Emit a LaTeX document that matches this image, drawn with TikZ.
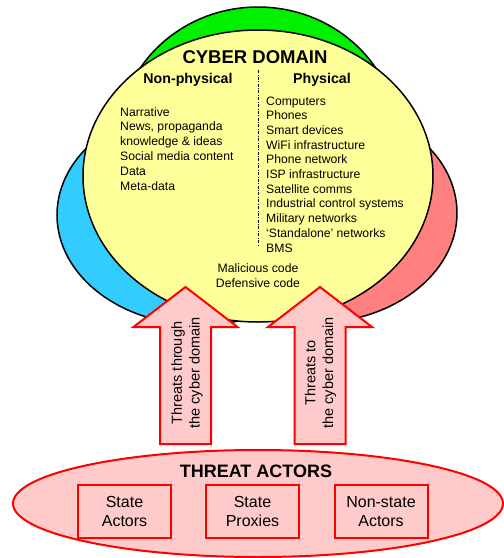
\documentclass[tikz,border=0pt]{standalone}
\usepackage{fontspec}
\setmainfont{Liberation Sans}
\usetikzlibrary{shapes.geometric}
\definecolor{domgreen}{HTML}{00F000}
\definecolor{domblue}{HTML}{33CCFF}
\definecolor{domred}{HTML}{FF8080}
\definecolor{domyellow}{HTML}{FFFF99}
\definecolor{threatfill}{HTML}{FFCACA}
\definecolor{threatline}{HTML}{FF0000}
\tikzset{
  blob/.style={ellipse, draw=black, line width=1.5pt, inner sep=0pt},
  item/.style={anchor=base west, inner sep=0pt, font=\fontsize{12.2}{14}\selectfont},
  heading/.style={anchor=base, inner sep=0pt, font=\bfseries\fontsize{14.2}{17}\selectfont},
  threatarrow/.style={draw=threatline, fill=threatfill, line width=2pt, line join=miter},
  arrowtext/.style={rotate=90, align=center, inner sep=0pt, font=\fontsize{14.5}{17.7}\selectfont},
  actor/.style={draw=threatline, line width=2pt, minimum width=93pt, minimum height=53pt,
    align=center, inner sep=0pt, font=\fontsize{16}{19}\selectfont},
}
\begin{document}
\begin{tikzpicture}[x=1pt, y=-1pt]
\useasboundingbox (0,0) rectangle (504,558);

% overlapping domains behind the cyber domain
\node[blob, fill=domgreen, minimum width=280pt, minimum height=266pt] (green) at (258,140) {};
\node[blob, fill=domblue, minimum width=286pt, minimum height=220pt] (blue) at (200,215) {};
\node[blob, fill=domred, minimum width=286pt, minimum height=220pt] (red) at (314,213) {};
\node[blob, fill=domyellow, minimum width=350pt, minimum height=292pt] (cyber) at (258,176) {};

% headings
\node[anchor=base, inner sep=0pt, font=\bfseries\fontsize{18.5}{22}\selectfont] (title) at (255,63) {CYBER DOMAIN};
\node[heading] (nonphys) at (188,83) {Non-physical};
\node[heading] (phys) at (322,83) {Physical};

% divider between the two columns
\coordinate (divtop) at (258.3,70);
\coordinate (divbot) at (258.3,245);
\draw[line width=0.8pt, dash pattern=on 3pt off 1.5pt on 0.8pt off 1.5pt] (divtop) -- (divbot);

% non-physical column
\foreach \t [count=\i] in {Narrative, {News, propaganda}, knowledge \& ideas,
    Social media content, Data, Meta-data}
  \node[item] (np\i) at (120, {116 + (\i-1)*14.8}) {\t};

% physical column
\foreach \t [count=\i] in {Computers, Phones, Smart devices, WiFi infrastructure,
    Phone network, ISP infrastructure, Satellite comms, Industrial control systems,
    Military networks, `Standalone' networks, BMS}
  \node[item] (ph\i) at (266, {105 + (\i-1)*14.7}) {\t};

\node[anchor=base, inner sep=0pt, font=\fontsize{12.2}{14}\selectfont] (mal) at (258,272.5) {Malicious code};
\node[anchor=base, inner sep=0pt, font=\fontsize{12.2}{14}\selectfont] (def) at (258,287) {Defensive code};

% threat arrows
\draw[threatarrow] (160,444) -- (160,327) -- (133.5,327) -- (185.5,287) -- (237.5,327)
  -- (211,327) -- (211,444) -- cycle;
\draw[threatarrow] (294.5,444) -- (294.5,327) -- (268,327) -- (320,287) -- (372,327)
  -- (345.5,327) -- (345.5,444) -- cycle;
\node[arrowtext] (through) at (187,373) {Threats through\\the cyber domain};
\node[arrowtext] (to) at (320.5,373) {Threats to\\the cyber domain};

% threat actors
\node[ellipse, draw=threatline, fill=threatfill, line width=2pt, inner sep=0pt,
  minimum width=490pt, minimum height=107pt] (actors) at (258,503.5) {};
\node[anchor=base, inner sep=0pt, font=\bfseries\fontsize{18}{22}\selectfont] (actorstitle) at (256,477) {THREAT ACTORS};
\node[actor] (state) at (124.5,511.5) {State\\Actors};
\node[actor] (proxies) at (252.5,511.5) {State\\Proxies};
\node[actor] (nonstate) at (381,511.5) {Non-state\\Actors};
\end{tikzpicture}
\end{document}
